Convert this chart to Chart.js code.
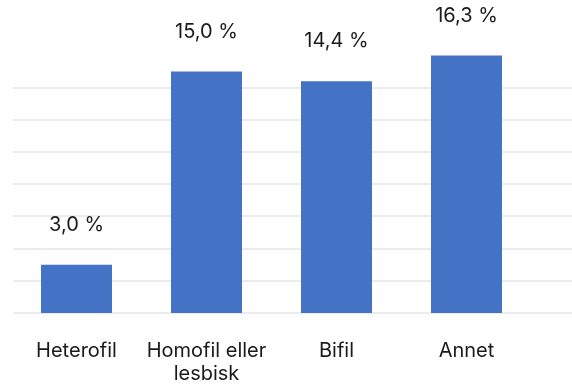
<!DOCTYPE html>
<html>
<head>
<meta charset="utf-8">
<script src="https://cdn.jsdelivr.net/npm/chart.js@4.4.0/dist/chart.umd.min.js"></script>
<style>
html,body{margin:0;padding:0;background:#fff;}
#wrap{width:572px;height:385px;position:relative;}
</style>
</head>
<body>
<div id="wrap"><canvas id="c"></canvas></div>
<script>
const categories = [['Heterofil'], ['Homofil eller', 'lesbisk'], ['Bifil'], ['Annet']];
const values = [3.0, 15.0, 14.4, 16.3];
const yTicks = [0, 2, 4, 6, 8, 10, 12, 14];

const FONT = 'Inter, "Noto Sans", sans-serif';

const gridPlugin = {
  id: 'extGrid',
  beforeDatasetsDraw(chart) {
    const ctx = chart.ctx;
    const y = chart.scales.y;
    ctx.save();
    ctx.strokeStyle = '#ebebeb';
    ctx.lineWidth = 2;
    yTicks.forEach(t => {
      const py = Math.round(y.getPixelForValue(t));
      ctx.beginPath();
      ctx.moveTo(chart.chartArea.left + 1.5, py);
      ctx.lineTo(chart.width, py);
      ctx.stroke();
    });
    ctx.restore();
  }
};

const labelPlugin = {
  id: 'valLabels',
  afterDatasetsDraw(chart) {
    const ctx = chart.ctx;
    const meta = chart.getDatasetMeta(0);
    ctx.save();
    ctx.font = '20px ' + FONT;
    ctx.fillStyle = '#1a1a1a';
    ctx.textAlign = 'center';
    ctx.textBaseline = 'middle';
    meta.data.forEach((bar, i) => {
      const top = Math.max(bar.y, chart.chartArea.top);
      ctx.fillText(values[i].toFixed(1).replace('.', ',') + ' %', bar.x, top - 40);
    });
    ctx.restore();
  }
};

new Chart(document.getElementById('c'), {
  type: 'bar',
  data: {
    labels: categories,
    datasets: [{
      data: values,
      backgroundColor: '#4472C4',
      borderWidth: 0,
      categoryPercentage: 1,
      barPercentage: 0.546
    }]
  },
  options: {
    responsive: true,
    maintainAspectRatio: false,
    animation: false,
    layout: { padding: { top: 55.5, left: 11.5, right: 40.5, bottom: 0 } },
    plugins: { legend: { display: false }, tooltip: { enabled: false } },
    scales: {
      x: {
        grid: { display: false },
        border: { display: false },
        afterFit(scale) { scale.height = 72; },
        ticks: {
          color: '#1a1a1a',
          padding: 18,
          maxRotation: 0,
          autoSkip: false,
          font: { family: FONT, size: 20, lineHeight: 1.15 }
        }
      },
      y: {
        display: false,
        min: 0,
        max: 16,
        ticks: { stepSize: 2 }
      }
    }
  },
  plugins: [gridPlugin, labelPlugin]
});
</script>
</body>
</html>
